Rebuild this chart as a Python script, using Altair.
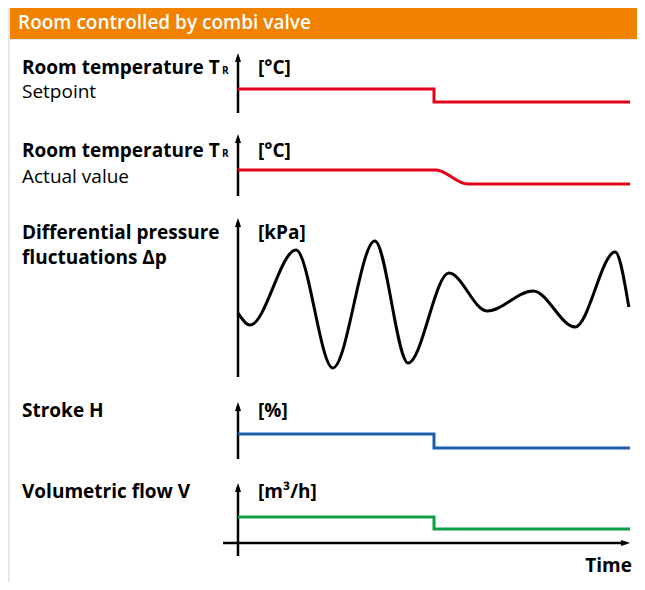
import altair as alt
import pandas as pd

# ---------------- data ----------------
header_title = "Room controlled by combi valve"
label_bold = ["Room temperature T", "Room temperature T", "Differential pressure", "Stroke H", "Volumetric flow V"]
label_bold2 = ["", "", "fluctuations Δp", "", ""]
label_regular = ["Setpoint", "Actual value", "", "", ""]
subscripts = ["R", "R", "", "", ""]
units = ["[°C]", "[°C]", "[kPa]", "[%]", "[m³/h]"]
time_label = "Time"

step_t = [0, 50, 100]
setpoint_v = [4.29, 1.96, 1.96]
actual_t = [0, 50.5, 58.5, 100]
actual_v = [4.48, 4.48, 2.07, 2.07]
wave_t = [0, 3.06, 14.8, 24.2, 34.9, 43.4, 53.8, 63.5, 75.3, 86.0, 96.2, 99.7]
wave_v = [4.13, 3.35, 8.19, 0.58, 8.77, 0.90, 6.71, 4.26, 5.55, 3.23, 8.06, 4.52]
stroke_v = [4.72, 2.08, 2.08]
flow_v = [5.65, 3.91, 3.91]
time_axis = [-3.83, 99.0]
time_axis_level = 1.88

# ---------------- layout ----------------
W, H = 629, 574
FONT = "Open Sans"
FS = 19
XS = alt.Scale(domain=[0, 100], range=[230, 622])
UP = "M0,-1.33L-1,1.67L1,1.67Z"
RIGHT = "M1.33,0L-1.67,-1L-1.67,1Z"
one = pd.DataFrame({"a": [0]})


def ys(r):
    return alt.Scale(domain=[0, 10], range=r)


def panel(t, v, color, yr, interp, extra=None):
    s = ys(yr)
    ax = pd.DataFrame({"t": [0], "lo": [0], "hi": [10]})
    rule = alt.Chart(ax).mark_rule(color="black", strokeWidth=2.5).encode(
        x=alt.X("t:Q", scale=XS, axis=None),
        y=alt.Y("lo:Q", scale=s, axis=None),
        y2="hi:Q",
    )
    tip = alt.Chart(ax).mark_point(shape=UP, size=36, filled=True, color="black",
                                   opacity=1, strokeWidth=0).encode(
        x=alt.X("t:Q", scale=XS, axis=None),
        y=alt.Y("hi:Q", scale=s, axis=None),
    )
    df = pd.DataFrame({"t": t, "v": v})
    line = alt.Chart(df).mark_line(color=color, strokeWidth=3, interpolate=interp,
                                   strokeJoin="miter", strokeCap="butt").encode(
        x=alt.X("t:Q", scale=XS, axis=None),
        y=alt.Y("v:Q", scale=s, axis=None),
    )
    layers = [rule, tip, line]
    if extra is not None:
        layers += extra(s)
    return alt.layer(*layers)


def time_axis_layers(s):
    df = pd.DataFrame({"t": [time_axis[0]], "t2": [time_axis[1]], "v": [time_axis_level]})
    r = alt.Chart(df).mark_rule(color="black", strokeWidth=2.5).encode(
        x=alt.X("t:Q", scale=XS, axis=None), x2="t2:Q",
        y=alt.Y("v:Q", scale=s, axis=None),
    )
    p = alt.Chart(df).mark_point(shape=RIGHT, size=36, filled=True, color="black",
                                 opacity=1, strokeWidth=0).encode(
        x=alt.X("t2:Q", scale=XS, axis=None),
        y=alt.Y("v:Q", scale=s, axis=None),
    )
    return [r, p]


def text(txt, x, y, size=FS, weight="bold", align="left", color="black"):
    return alt.Chart(one).mark_text(text=txt, font=FONT, fontSize=size, fontWeight=weight,
                                    align=align, baseline="alphabetic", color=color).encode(
        x=alt.value(x), y=alt.value(y))


white = alt.Chart(one).mark_rect(color="white").encode(
    x=alt.value(2), x2=alt.value(W), y=alt.value(32), y2=alt.value(H + 20))
orange = alt.Chart(one).mark_rect(color="#f08200").encode(
    x=alt.value(2), x2=alt.value(W), y=alt.value(0), y2=alt.value(31))

p1 = panel(step_t, setpoint_v, "#e2001a", [105, 49], "step-after")
p2 = panel(actual_t, actual_v, "#e2001a", [188, 130], "monotone")
p3 = panel(wave_t, wave_v, "black", [369, 214], "monotone")
p4 = panel(step_t, stroke_v, "#1b5faa", [451, 398], "step-after")
p5 = panel(step_t, flow_v, "#0ea048", [548, 479], "step-after", extra=time_axis_layers)

bold_y = [66, 149, 231, 409, 490]
bold2_y = [None, None, 256, None, None]
reg_y = [90, 175, None, None, None]
texts = [text(header_title, 10, 21, size=19, weight=600, color="white")]
for i in range(5):
    texts.append(text(label_bold[i], 14, bold_y[i]))
    if label_bold2[i]:
        texts.append(text(label_bold2[i], 14, bold2_y[i]))
    if label_regular[i]:
        texts.append(text(label_regular[i], 14, reg_y[i], weight="normal"))
    if subscripts[i]:
        texts.append(text(subscripts[i], 214, bold_y[i], size=10))
    texts.append(text(units[i], 250, bold_y[i]))
texts.append(text(time_label, 624, 564, align="right"))

chart = alt.layer(white, orange, p1, p2, p3, p4, p5, *texts).resolve_scale(
    y="independent"
).properties(
    width=W, height=H, padding=0, background="#e4e9ec",
    autosize=alt.AutoSizeParams(type="none"),
).configure_view(stroke=None)

chart.save("out.html", embed_options={"renderer": "svg", "actions": False})
